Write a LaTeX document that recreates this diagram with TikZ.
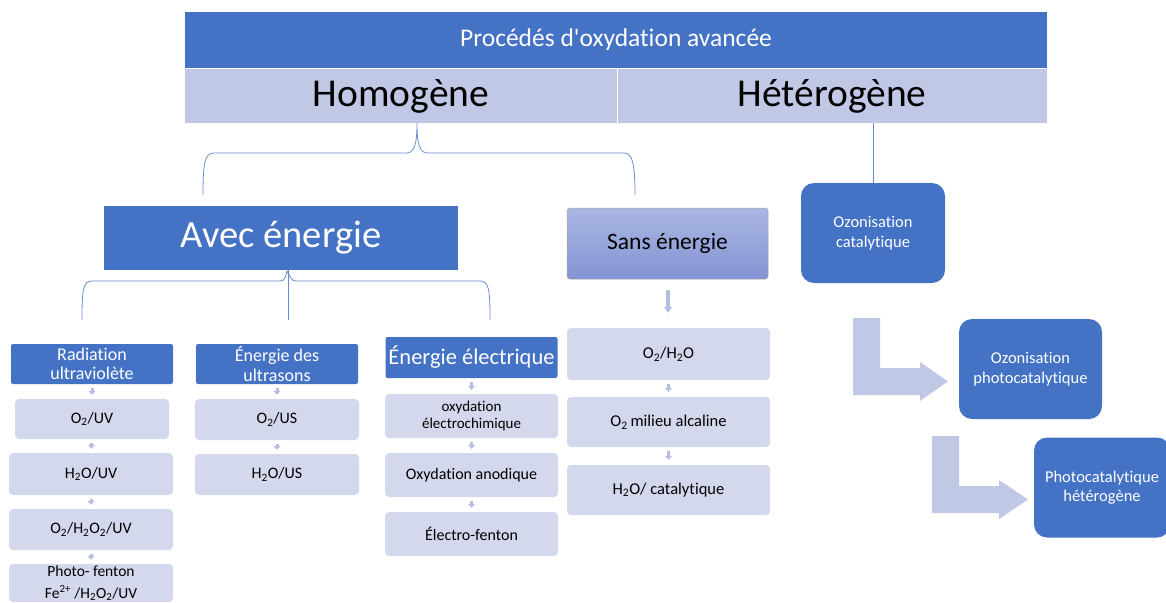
\documentclass[tikz,border=0pt]{standalone}
\usepackage{fontspec}
\setmainfont{Carlito}[Ligatures={NoCommon}]
\usetikzlibrary{arrows.meta}
\definecolor{pblue}{RGB}{68,114,196}
\definecolor{plight}{RGB}{193,200,230}
\definecolor{pbox}{RGB}{212,216,236}
\definecolor{parr}{RGB}{180,189,226}
\definecolor{sanstop}{RGB}{170,182,226}
\definecolor{sansbot}{RGB}{132,148,212}
\newcommand{\sbs}[1]{\textsubscript{#1}}
\newcommand{\sps}[1]{\textsuperscript{#1}}
\begin{document}
\begin{tikzpicture}[x=1pt,y=-1pt,
  bluebox/.style={fill=pblue, text=white, inner sep=0pt, align=center},
  hdrbox/.style={bluebox, rounded corners=2pt, font=\fontsize{18}{19.5}\selectfont},
  itembox/.style={fill=pbox, rounded corners=4pt, inner sep=0pt, align=center, font=\fontsize{16}{17.5}\selectfont},
  sitembox/.style={itembox, font=\fontsize{16.5}{18}\selectfont},
  ozbox/.style={bluebox, rounded corners=13pt, font=\fontsize{16.5}{19.5}\selectfont},
  brace/.style={draw=pblue!80, line width=0.8pt},
  smallarr/.style={draw=parr, line width=3pt, -{Triangle[width=7pt,length=4pt]}},
  bentarr/.style={fill=plight}
]
\useasboundingbox (0,0) rectangle (1166,602);

% top
\node[bluebox, minimum width=862pt, minimum height=56pt, font=\fontsize{25.5}{27}\selectfont] (title) at (616,40) {Procédés d\textquotesingle oxydation avancée};
\node[fill=plight, minimum width=432pt, minimum height=54pt, inner sep=0pt, font=\fontsize{39.5}{41}\selectfont] (homo) at (401,96) {Homogène};
\node[fill=plight, minimum width=430pt, minimum height=54pt, inner sep=0pt, font=\fontsize{39.5}{41}\selectfont] (hetero) at (832,96) {Hétérogène};
\draw[white, line width=0.6pt] (homo.north east) -- (homo.south east);

% brace under homogene
\coordinate (b1l) at (203,195);
\coordinate (b1t) at (417,123);
\coordinate (b1r) at (635,195);
\draw[brace] (b1l) .. controls (203,162) and (205,153) .. (214,153) -- (406,153)
  .. controls (414,153) and (417,146) .. (b1t)
  .. controls (417,146) and (420,153) .. (428,153) -- (624,153)
  .. controls (632,153) and (635,162) .. (b1r);

% avec energie
\node[bluebox, minimum width=354pt, minimum height=64pt, font=\fontsize{38.5}{40}\selectfont] (avec) at (281,238) {Avec énergie};

% sans energie
\node[draw=black!35, line width=0.5pt, rounded corners=3pt, top color=sanstop, bottom color=sansbot, minimum width=201pt, minimum height=71pt, inner sep=0pt, font=\fontsize{23.5}{25}\selectfont] (sans) at (667.5,243.5) {Sans énergie};

% heterogene branch
\node[ozbox, minimum width=144pt, minimum height=100pt] (oz1) at (873,233) {Ozonisation\\catalytique};
\draw[brace] (hetero.south -| oz1.north) -- (oz1.north);
\node[ozbox, minimum width=143pt, minimum height=100pt] (oz2) at (1030.5,369) {Ozonisation\\photocatalytique};
\node[ozbox, minimum width=136pt, minimum height=100pt] (phet) at (1102,487.5) {Photocatalytique\\hétérogène};
\fill[bentarr] (853,318) -- (880,318) -- (880,368) -- (920,368) -- (920,362) -- (948,381.5) -- (920,401) -- (920,395) -- (853,395) -- cycle;
\fill[bentarr] (932,436) -- (959,436) -- (959,486) -- (999,486) -- (999,480) -- (1028,499.5) -- (999,519) -- (999,513) -- (932,513) -- cycle;

% brace under avec energie
\coordinate (b2l) at (82,320);
\coordinate (b2m) at (288,320);
\coordinate (b2r) at (490,320);
\draw[brace] (avec.south -| b2m) -- (b2m);
\draw[brace] (b2l) .. controls (82,290) and (83,281) .. (92,281) -- (280,281)
  .. controls (285,281) and (286,276) .. (287,271)
  .. controls (290,276) and (291,281) .. (296,281) -- (480,281)
  .. controls (489,281) and (490,290) .. (b2r);

% column radiation UV
\node[hdrbox, minimum width=162pt, minimum height=40pt] (rad) at (92,364) {Radiation\\ultraviolète};
\node[itembox, minimum width=154pt, minimum height=40pt] (r1) at (92,419) {O\sbs{2}/UV};
\node[itembox, minimum width=164pt, minimum height=42pt] (r2) at (91,474) {H\sbs{2}O/UV};
\node[itembox, minimum width=164pt, minimum height=41pt] (r3) at (91,529.5) {O\sbs{2}/H\sbs{2}O\sbs{2}/UV};
\node[itembox, minimum width=164pt, minimum height=38pt, font=\fontsize{15.5}{21.5}\selectfont] (r4) at (91,583) {Photo- fenton\\Fe\sps{2+} /H\sbs{2}O\sbs{2}/UV};
\draw[smallarr, shorten <=4pt, shorten >=4pt] (rad) -- (r1);
\draw[smallarr, shorten <=4pt, shorten >=4pt] (r1) -- (r2);
\draw[smallarr, shorten <=4pt, shorten >=4pt] (r2) -- (r3);
\draw[smallarr, shorten <=4pt, shorten >=4pt] (r3) -- (r4);

% column ultrasons
\node[hdrbox, minimum width=162pt, minimum height=40pt] (us) at (277,364) {Énergie des\\ultrasons};
\node[itembox, minimum width=164pt, minimum height=41pt] (u1) at (277,419.5) {O\sbs{2}/US};
\node[itembox, minimum width=164pt, minimum height=41pt] (u2) at (277,474.5) {H\sbs{2}O/US};
\draw[smallarr, shorten <=4pt, shorten >=4pt] (us) -- (u1);
\draw[smallarr, shorten <=4pt, shorten >=4pt] (u1) -- (u2);

% column electrique
\node[hdrbox, minimum width=172pt, minimum height=41pt, font=\fontsize{22.5}{24}\selectfont] (el) at (471.5,357.5) {Énergie électrique};
\node[itembox, minimum width=173pt, minimum height=44pt, font=\fontsize{15}{17}\selectfont] (e1) at (471.5,416) {oxydation\\électrochimique};
\node[itembox, minimum width=173pt, minimum height=44pt] (e2) at (471.5,475) {Oxydation anodique};
\node[itembox, minimum width=173pt, minimum height=44pt] (e3) at (471.5,534) {Électro-fenton};
\draw[smallarr, shorten <=4pt, shorten >=4pt] (el) -- (e1);
\draw[smallarr, shorten <=4pt, shorten >=4pt] (e1) -- (e2);
\draw[smallarr, shorten <=4pt, shorten >=4pt] (e2) -- (e3);

% column sans energie
\node[sitembox, minimum width=203pt, minimum height=52pt] (s1) at (668.5,354) {O\sbs{2}/H\sbs{2}O};
\node[sitembox, minimum width=203pt, minimum height=50pt] (s2) at (668.5,422) {O\sbs{2}\,milieu alcaline};
\node[sitembox, minimum width=203pt, minimum height=50pt] (s3) at (668.5,490) {H\sbs{2}O/ catalytique};
\draw[smallarr, line width=4pt, shorten <=11pt, shorten >=15pt, -{Triangle[width=8pt,length=6pt]}] (sans) -- (s1);
\draw[smallarr, shorten <=4pt, shorten >=5pt] (s1) -- (s2);
\draw[smallarr, shorten <=4pt, shorten >=5pt] (s2) -- (s3);
\end{tikzpicture}
\end{document}
